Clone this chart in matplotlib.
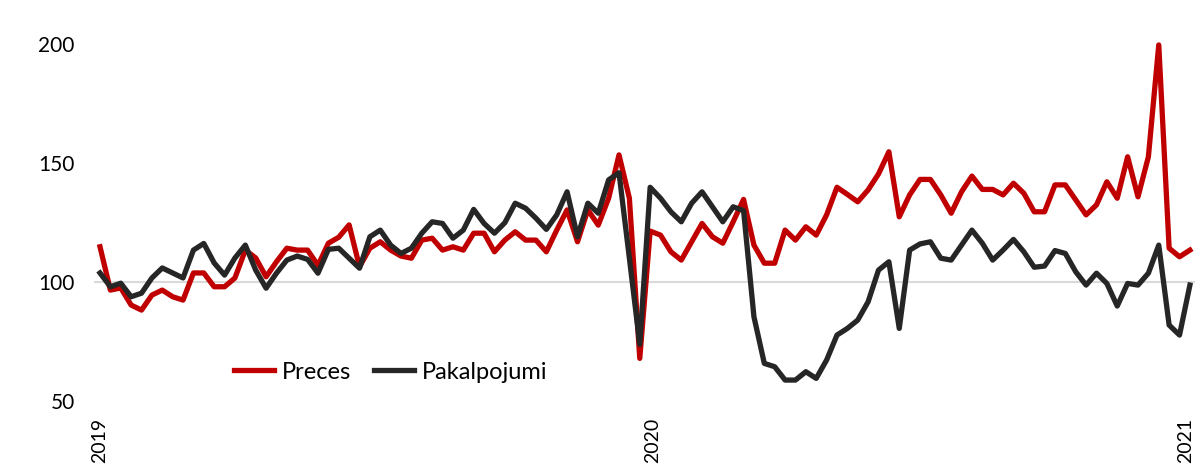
"""
Preces un pakalpojumi: nedēļas indekss, 2019 - 2021.

运行：
    python plot.py

生成：
    out.png
"""

import numpy as np
from matplotlib import pyplot as plt

plt.rcParams["font.family"] = ["Lato", "DejaVu Sans"]

# 每周数据
preces = [
    114.8, 96.6, 97.5, 90.3, 88.2, 94.5, 96.6, 93.8, 92.4, 103.8,
    103.8, 98.0, 98.0, 101.7, 113.4, 110.1, 102.2, 108.5, 114.2, 113.4,
    113.4, 107.0, 116.3, 118.8, 124.0, 106.4, 114.2, 116.9, 113.4, 110.9,
    110.0, 117.6, 118.4, 113.4, 114.8, 113.4, 120.5, 120.5, 112.7, 117.6,
    121.1, 117.6, 117.6, 112.7, 121.8, 130.3, 116.9, 130.3, 123.9, 135.2,
    153.4, 135.2, 67.9, 121.4, 119.7, 112.7, 109.2, 116.9, 124.6, 119.0,
    116.3, 125.3, 134.7, 115.5, 107.9, 107.9, 121.8, 117.6, 123.2, 119.7,
    128.2, 139.8, 136.8, 133.7, 138.7, 145.4, 154.7, 127.4, 136.6, 143.1,
    143.1, 136.6, 128.9, 137.9, 144.5, 138.9, 138.9, 136.6, 141.5, 137.3,
    129.5, 129.5, 140.8, 140.8, 134.5, 128.2, 132.4, 142.1, 135.2, 152.6,
    135.8, 152.6, 199.6, 114.2, 110.6, 113.4,
]
pakalpojumi = [
    103.8, 98.0, 99.5, 93.8, 95.3, 101.7, 105.9, 103.8, 101.7, 113.4,
    116.2, 108.0, 102.9, 110.1, 115.5, 105.0, 97.4, 103.7, 109.2, 110.9,
    109.5, 103.7, 113.7, 114.2, 110.0, 105.8, 119.0, 121.8, 115.5, 112.0,
    114.2, 120.5, 125.3, 124.6, 118.4, 121.8, 130.5, 124.6, 120.5, 124.9,
    133.1, 131.0, 126.8, 122.1, 128.2, 137.9, 119.0, 133.1, 128.9, 142.9,
    145.9, 110.0, 73.8, 139.8, 135.2, 129.5, 125.3, 133.1, 137.9, 131.6,
    125.3, 131.6, 130.0, 85.4, 65.8, 64.4, 58.8, 58.8, 62.3, 59.5,
    67.2, 77.7, 80.5, 84.0, 91.7, 105.0, 108.5, 80.5, 113.4, 116.0,
    116.9, 110.0, 109.2, 115.5, 121.8, 116.3, 109.2, 113.4, 117.9, 112.7,
    106.2, 106.7, 113.2, 112.0, 104.3, 98.7, 103.7, 99.4, 89.9, 99.4,
    98.7, 103.7, 115.5, 81.9, 77.7, 98.7,
]
year_labels = ["2019", "2020", "2021"]
year_pos = [0, 53.2, 104.6]
y_ticks = [50, 100, 150, 200]

RED = "#C00000"
DARK = "#262626"


def make_plot() -> None:
    """绘制两条周指数折线。"""
    fig = plt.figure(figsize=(11.95, 4.66), dpi=100)
    ax = fig.add_axes([94 / 1195, 65 / 466, 1101 / 1195, 357 / 466])

    weeks = np.arange(len(preces))
    ax.axhline(100, color="#D9D9D9", lw=1.5, zorder=1)
    ax.plot(weeks, preces, color=RED, lw=3.8, label="Preces", clip_on=False, zorder=3)
    ax.plot(weeks, pakalpojumi, color=DARK, lw=3.8, label="Pakalpojumi", clip_on=False, zorder=3)

    ax.set_xlim(-6 / 10.38, 1095 / 10.38)
    ax.set_ylim(50, 200)
    ax.set_yticks(y_ticks)
    ax.set_xticks(year_pos)
    ax.set_xticklabels(year_labels, rotation=90, va="top", ha="center")
    ax.tick_params(axis="y", length=0, pad=14, labelsize=15, colors="black")
    ax.tick_params(axis="x", length=0, pad=12, labelsize=14, colors="black")
    for s in ax.spines.values():
        s.set_visible(False)

    ax.legend(
        loc="center left",
        bbox_to_anchor=(0.116, 0.081),
        ncol=2,
        frameon=False,
        fontsize=17,
        borderpad=0,
        handlelength=1.7,
        handletextpad=0.35,
        columnspacing=0.95,
    )
    fig.savefig("out.png", dpi=100)
    plt.close(fig)


def main() -> None:
    make_plot()


if __name__ == "__main__":
    main()
